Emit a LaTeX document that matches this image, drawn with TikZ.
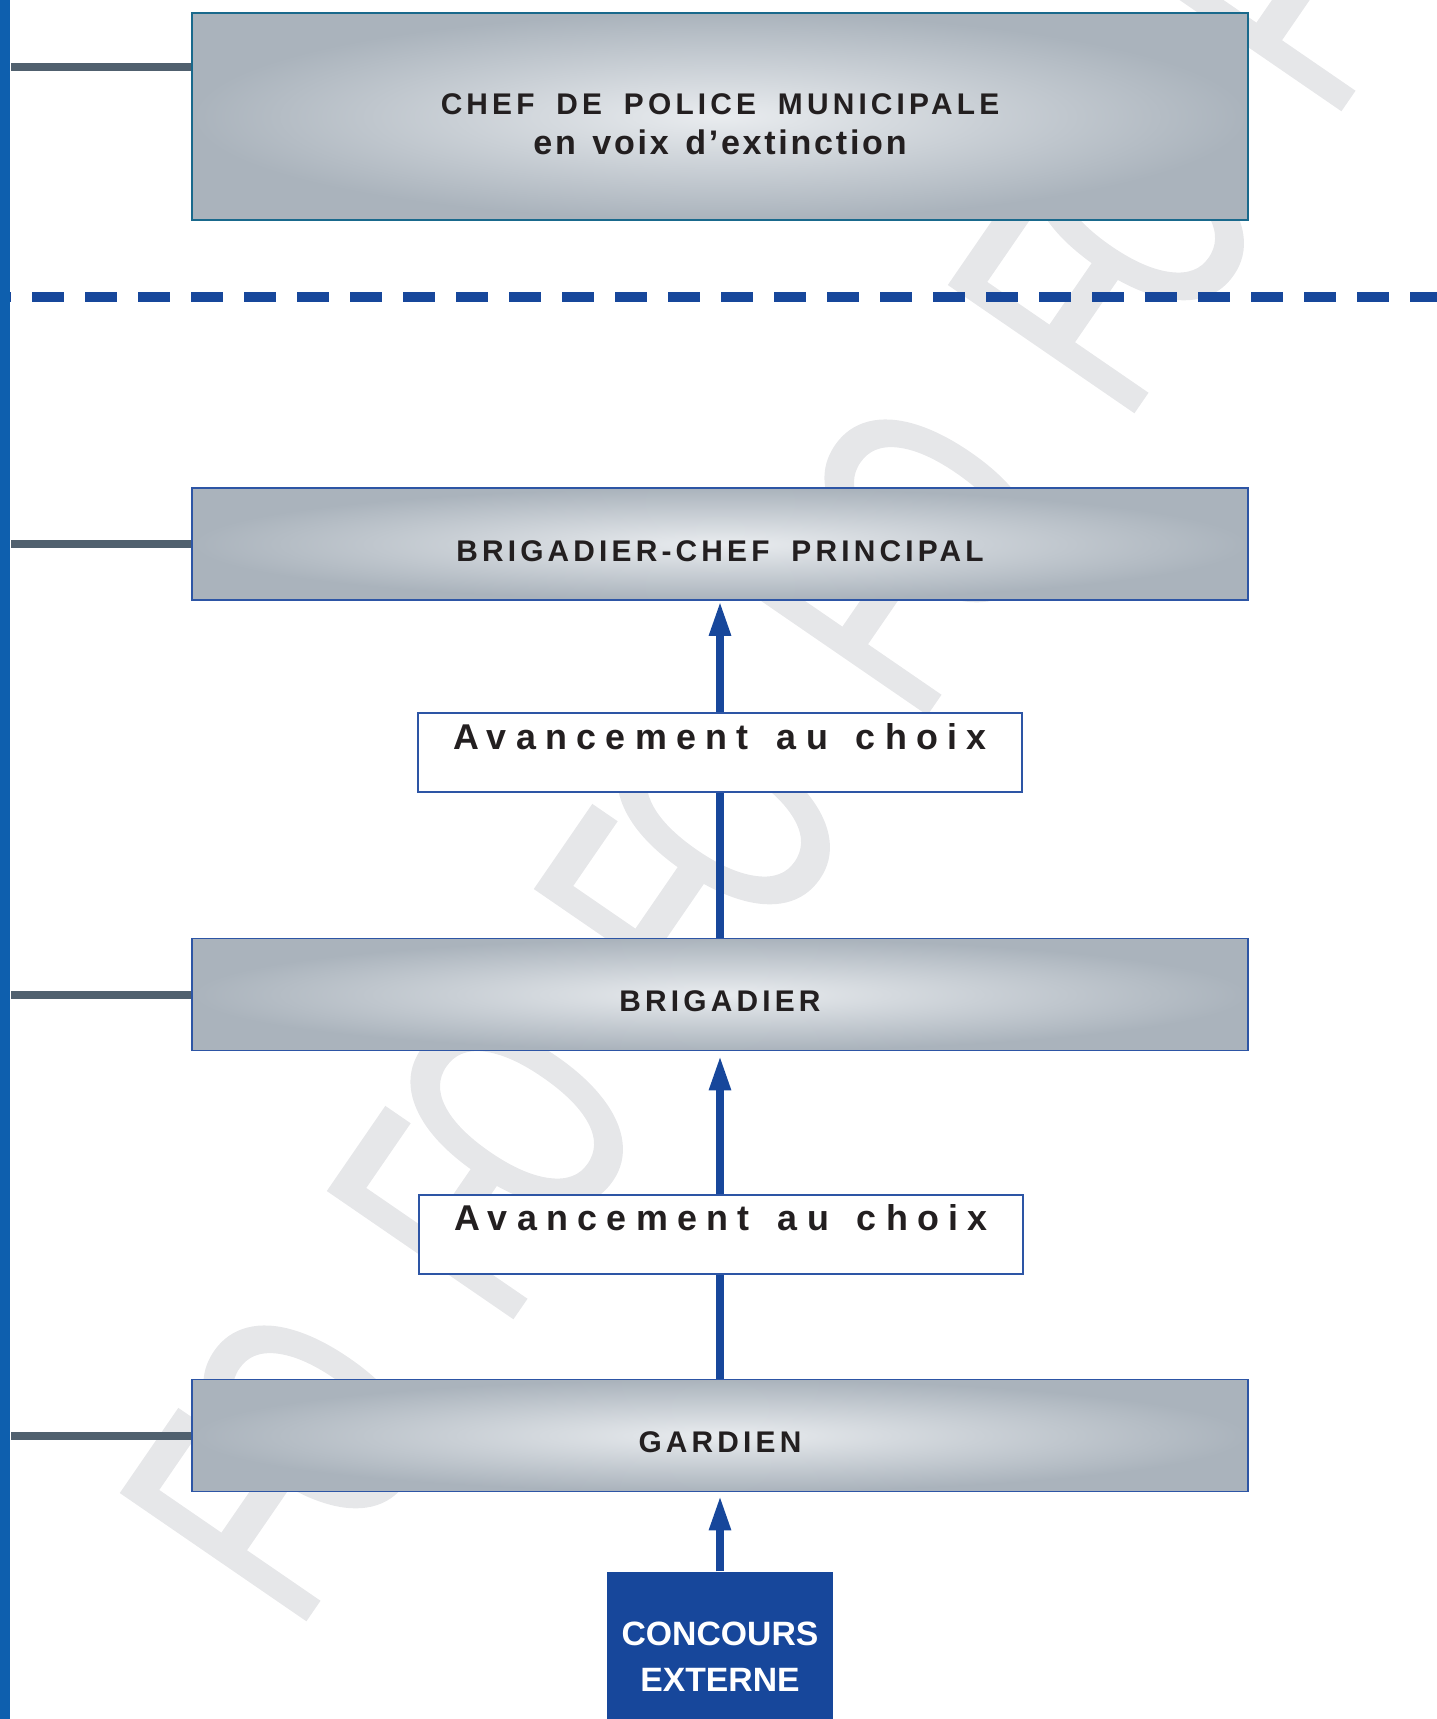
\documentclass[tikz,border=0pt]{standalone}
\usepackage{fontspec}
\setmainfont{Liberation Sans}
\newfontfamily\rankfont[LetterSpace=14,WordSpace=1.75]{Liberation Sans}
\newfontfamily\subfont[LetterSpace=8,WordSpace=1.35]{Liberation Sans}
\newfontfamily\stepfont[LetterSpace=26,WordSpace=1.45]{Liberation Sans}
\newfontfamily\markfont[FakeStretch=0.62,FakeBold=2]{Liberation Sans}
\usepackage{tikz}
\usetikzlibrary{positioning,arrows.meta}
\definecolor{spineblue}{RGB}{14,95,174}
\definecolor{navy}{RGB}{23,71,155}
\definecolor{slate}{RGB}{80,96,110}
\definecolor{boxedge}{RGB}{45,85,165}
\definecolor{tealedge}{RGB}{25,105,140}
\definecolor{rankhi}{RGB}{233,236,239}
\definecolor{ranklo}{RGB}{170,179,188}
\definecolor{ink}{RGB}{35,31,32}
\definecolor{ghost}{RGB}{230,231,233}

\tikzset{
    rank/.style={draw=boxedge, line width=0.15mm, inner color=rankhi, outer color=ranklo,
        minimum width=105.6mm, minimum height=11.2mm, inner sep=0pt},
    ranktext/.style={font=\rankfont\bfseries\fontsize{8.5}{10}\selectfont, text=ink, inner sep=0pt},
    subtext/.style={font=\subfont\bfseries\fontsize{9.7}{12}\selectfont, text=ink, inner sep=0pt},
    stepbox/.style={draw=boxedge, line width=0.15mm, fill=white,
        minimum width=60.4mm, minimum height=7.9mm, inner sep=0pt},
    steptext/.style={font=\stepfont\bfseries\fontsize{10.2}{12}\selectfont, text=ink, inner sep=0pt},
    link/.style={slate, line width=0.8mm},
    divider/.style={navy, line width=1mm, dash pattern=on 3.2mm off 2.1mm, dash phase=2.1mm},
    promo/.style={navy, line width=0.8mm, -{Triangle[length=3.5mm,width=2mm]}},
    ghostletter/.style={font=\markfont\fontsize{91}{91}\selectfont, text=ghost, rotate=55.5, inner sep=0pt},
}

\begin{document}
\begin{tikzpicture}[x=0.1mm,y=-0.1mm]
    \useasboundingbox (0,0) rectangle (1437,1719);

    % Watermark
    \foreach \i in {0,...,5} {
        \node[ghostletter] (wmf\i) at (240+207*\i, 1518-302*\i) {F};
        \node[ghostletter] (wmo\i) at (310+207*\i, 1417-302*\i) {O};
    }

    % Cut between the two frames
    \coordinate (cutL) at (0,297);
    \coordinate (cutR) at (1437,297);
    \draw[divider] (cutL) -- (cutR);

    % Spine
    \node[fill=spineblue, minimum width=1mm, minimum height=171.9mm, inner sep=0pt] (spine) at (5,859.5) {};

    % Grades
    \node[rank, draw=tealedge, minimum height=20.7mm] (chef) at (720,116.5) {};
    \node[rank] (bcp) at (720,544) {};
    \node[rank] (brig) at (720,994.5) {};
    \node[rank] (gardien) at (720,1435.5) {};

    \node[ranktext] (cheftxt) at (720,104) {CHEF DE POLICE MUNICIPALE};
    \node[subtext] (chefsub) at (720,142) {en voix d’extinction};
    \node[ranktext] (bcptxt) at (720,551) {BRIGADIER-CHEF PRINCIPAL};
    \node[ranktext] (brigtxt) at (720,1001.5) {BRIGADIER};
    \node[ranktext] (gardientxt) at (720,1442) {GARDIEN};

    % Entry
    \node[fill=navy, minimum width=22.6mm, minimum height=17mm, align=center, text=white,
        font=\bfseries\fontsize{9.6}{13.1}\selectfont] (concours) at (720,1657) {CONCOURS\\EXTERNE};

    % Links to the spine
    \coordinate (chefhook) at ([yshift=-5.5mm]chef.north west);
    \draw[link] (chefhook) -- (chefhook -| spine.east);
    \foreach \r in {bcp,brig,gardien}
        \draw[link] (\r.west) -- (\r.west -| spine.east);

    % Promotions
    \draw[promo] (brig.north) -- (bcp.south);
    \draw[promo, shorten >=0.4mm] (gardien.north) -- (brig.south);
    \draw[promo, shorten >=0.3mm] (concours.north) -- (gardien.south);

    \node[stepbox] (adv1) at (720,752.5) {};
    \node[steptext] (adv1txt) at (720,737) {Avancement au choix};
    \node[stepbox] (adv2) at (721,1234.5) {};
    \node[steptext] (adv2txt) at (721,1218) {Avancement au choix};
\end{tikzpicture}
\end{document}
